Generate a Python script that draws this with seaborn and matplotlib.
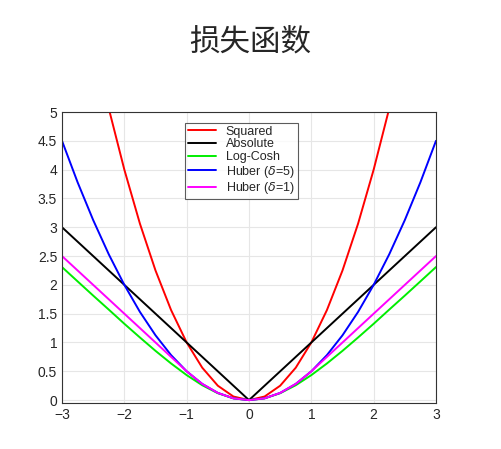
import numpy as np
import pandas as pd
import matplotlib
matplotlib.use("Agg")
import matplotlib.pyplot as plt
import seaborn as sns

# values at x = -3 .. 3, step 0.25
x_vals = [-3, -2.75, -2.5, -2.25, -2, -1.75, -1.5, -1.25, -1, -0.75, -0.5, -0.25, 0,
          0.25, 0.5, 0.75, 1, 1.25, 1.5, 1.75, 2, 2.25, 2.5, 2.75, 3]
squared_half = [0.0625, 0.25, 0.5625, 1.0, 1.5625, 2.25, 3.0625, 4.0, 5.0625, 6.25, 7.5625, 9.0]
absolute_half = [0.25, 0.5, 0.75, 1.0, 1.25, 1.5, 1.75, 2.0, 2.25, 2.5, 2.75, 3.0]
logcosh_half = [0.031, 0.120, 0.258, 0.434, 0.636, 0.855, 1.087, 1.325, 1.571, 1.814, 2.061, 2.309]
huber5_half = [0.031, 0.125, 0.281, 0.5, 0.781, 1.125, 1.531, 2.0, 2.531, 3.125, 3.781, 4.5]
huber1_half = [0.031, 0.125, 0.281, 0.5, 0.75, 1.0, 1.25, 1.5, 1.75, 2.0, 2.25, 2.5]

def mirror(h):
    return h[::-1] + [0.0] + h

series = {
    "Squared": mirror(squared_half),
    "Absolute": mirror(absolute_half),
    "Log-Cosh": mirror(logcosh_half),
    r"Huber ($\delta$=5)": mirror(huber5_half),
    r"Huber ($\delta$=1)": mirror(huber1_half),
}
colors = ["#ff0000", "#000000", "#00ee00", "#0000ff", "#ff00ff"]

rows = []
for name, ys in series.items():
    for x, y in zip(x_vals, ys):
        rows.append({"x": x, "y": y, "loss": name})
df = pd.DataFrame(rows)

sns.set_style("white")
plt.rcParams['font.family'] = ['Liberation Sans', 'DejaVu Sans']

fig = plt.figure(figsize=(5.01, 4.49), dpi=100)
ax = fig.add_axes([62 / 501, 1 - 403 / 449, 374 / 501, 291 / 449])
sns.lineplot(data=df, x="x", y="y", hue="loss", palette=colors, ax=ax, linewidth=1.4)

ax.set_xlim(-3, 3)
ax.set_ylim(-0.05, 5)
ax.set_xticks(range(-3, 4))
ax.set_yticks(np.arange(0, 5.01, 0.5))
ax.set_yticklabels(["0", "0.5", "1", "1.5", "2", "2.5", "3", "3.5", "4", "4.5", "5"])
ax.grid(True, color="#e6e6e6", linewidth=0.8)
ax.tick_params(labelsize=10, length=3, direction="in")
ax.set_xlabel("")
ax.set_ylabel("")
for s in ax.spines.values():
    s.set_color("#333333")
    s.set_linewidth(0.8)

leg = ax.legend(loc="upper center", bbox_to_anchor=(0.48, 0.985), fontsize=9,
                frameon=True, fancybox=False, edgecolor="#333333",
                handlelength=2.2, borderpad=0.25, labelspacing=0.05)
leg.get_frame().set_linewidth(0.8)

fig.text(0.5, 1 - 42 / 449, "损失函数", ha="center", va="center", fontsize=22,
         family=['Noto Sans CJK SC', 'DejaVu Sans'])

fig.savefig("out.png", dpi=100)
